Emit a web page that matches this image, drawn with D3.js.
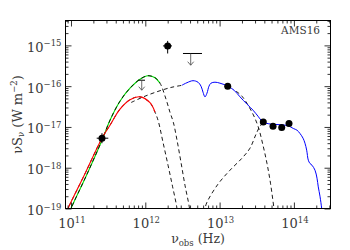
<!DOCTYPE html>
<html><head><meta charset="utf-8">
<script src="https://cdn.jsdelivr.net/npm/d3@7"></script>
<style>
html,body{margin:0;padding:0;background:#fff;}
svg{display:block;}
text{font-family:"DejaVu Serif",serif;fill:#3a3a3a;}
</style></head><body>
<svg id="c" width="350" height="250"></svg>
<script>
// All values: [log10 nu_obs (Hz), log10 nuS_nu (W m^-2)]
const coldDust = [[10.94,-19.10],[10.960,-19.00],[11.188,-18.147],[11.417,-17.276],[11.525,-16.957],[11.659,-16.565],[11.794,-16.332],[11.929,-16.263],[12.063,-16.406],[12.131,-16.639],[12.175,-16.859],[12.238,-17.374],[12.306,-17.939],[12.366,-18.453],[12.423,-18.961],[12.43,-19.10]];
const warmDust = [[10.98,-19.10],[11.000,-19.00],[11.215,-18.159],[11.417,-17.325],[11.525,-16.835],[11.659,-16.369],[11.794,-16.050],[11.929,-15.829],[12.036,-15.744],[12.131,-15.793],[12.198,-15.927],[12.279,-16.320],[12.332,-16.639],[12.377,-16.884],[12.427,-17.325],[12.480,-17.865],[12.534,-18.429],[12.592,-18.961],[12.60,-19.10]];
const torusLow = [[11.81,-16.40],[11.996,-16.246],[12.198,-16.112],[12.359,-16.026],[12.507,-15.976]];
const torusHigh = [[13.221,-16.124],[13.301,-16.246],[13.436,-16.639],[13.517,-16.982],[13.584,-17.448],[13.638,-17.897],[13.685,-18.380],[13.732,-19.00],[13.74,-19.10]];
const stellar = [[12.79,-19.10],[12.803,-19.00],[12.830,-18.846],[12.978,-18.404],[13.140,-18.061],[13.301,-17.767],[13.409,-17.521],[13.490,-17.178],[13.544,-16.982],[13.598,-16.884]];
const irsSpectrum = [[12.494,-15.976],[12.561,-15.915],[12.642,-15.866],[12.709,-15.903],[12.750,-16.001],[12.777,-16.148],[12.803,-16.263],[12.830,-16.173],[12.857,-16.001],[12.884,-15.927],[12.938,-15.903],[13.005,-15.927],[13.113,-16.001],[13.194,-16.099],[13.275,-16.263],[13.369,-16.442],[13.450,-16.590],[13.517,-16.737],[13.571,-16.859],[13.625,-16.908],[13.705,-16.933],[13.813,-16.945],[13.921,-16.970],[13.992,-17.038],[14.042,-17.080],[14.082,-17.161],[14.123,-17.276],[14.149,-17.399],[14.172,-17.570],[14.194,-17.816],[14.217,-17.897],[14.244,-17.939],[14.284,-18.061],[14.311,-18.257],[14.328,-18.470],[14.351,-18.698],[14.374,-19.00],[14.38,-19.10]];
// [logNu, logS, logNuLo, logNuHi, logSLo, logSHi]
const photometry = [[11.417,-17.276,11.346,11.502,-17.399,-17.153],[12.301,-15.013,12.238,12.359,-15.199,-14.890],[13.109,-16.001,null,null,null,null],[13.588,-16.876,13.56,13.62,null,null],[13.719,-16.982,null,null,null,null],[13.836,-17.014,null,null,null,null],[13.934,-16.916,null,null,null,null]];
// [logNu, logS (limit), logNuLo, logNuHi, logS arrow tip]
const upperLimits = [[12.611,-15.199,12.507,12.763,-15.486],[11.952,-15.854,11.906,11.996,-16.099]];
const xTickExps = [11,12,13,14];
const yTickExps = [-19,-18,-17,-16,-15];
const xDomainExp = [10.926,14.4926];
const yDomainExp = [-19,-14.39];
const sourceName = "AMS16";

const svg = d3.select("#c");
const L=65.5,R=330.5,T=20.5,B=208.5;
const x = d3.scaleLog().domain(xDomainExp.map(e=>10**e)).range([L,R]);
const y = d3.scaleLog().domain(yDomainExp.map(e=>10**e)).range([B,T]);
const X = v=>x(10**v), Y = v=>y(10**v);

svg.append("defs").append("clipPath").attr("id","clip")
  .append("rect").attr("x",L).attr("y",T).attr("width",R-L).attr("height",B-T);
const plot = svg.append("g").attr("clip-path","url(#clip)");

const line = d3.line().x(d=>X(d[0])).y(d=>Y(d[1])).curve(d3.curveCatmullRom.alpha(0.5));
const dash = "4,3";

plot.append("path").attr("d",line(stellar)).attr("fill","none").attr("stroke","#000").attr("stroke-width",0.9).attr("stroke-dasharray",dash);
plot.append("path").attr("d",line(torusLow)).attr("fill","none").attr("stroke","#000").attr("stroke-width",0.9).attr("stroke-dasharray",dash);
plot.append("path").attr("d",line(torusHigh)).attr("fill","none").attr("stroke","#000").attr("stroke-width",0.9).attr("stroke-dasharray",dash);
plot.append("path").attr("d",line(coldDust)).attr("fill","none").attr("stroke","#000").attr("stroke-width",0.9).attr("stroke-dasharray",dash);
plot.append("path").attr("d",line(warmDust.filter(d=>d[0]<=12.2))).attr("fill","none").attr("stroke","#00e000").attr("stroke-width",1.1);
plot.append("path").attr("d",line(warmDust)).attr("fill","none").attr("stroke","#000").attr("stroke-width",0.9).attr("stroke-dasharray",dash);
plot.append("path").attr("d",line(coldDust.filter(d=>d[0]<=12.14))).attr("fill","none").attr("stroke","#ff0000").attr("stroke-width",1.1);
plot.append("path").attr("d",line(irsSpectrum)).attr("fill","none").attr("stroke","#0000ff").attr("stroke-width",1);

// error bars & points
photometry.forEach(p=>{
  if(p[2]!==null) plot.append("line").attr("x1",X(p[2])).attr("x2",X(p[3])).attr("y1",Y(p[1])).attr("y2",Y(p[1])).attr("stroke","#000").attr("stroke-width",1);
  if(p[4]!==null) plot.append("line").attr("x1",X(p[0])).attr("x2",X(p[0])).attr("y1",Y(p[4])).attr("y2",Y(p[5])).attr("stroke","#000").attr("stroke-width",1);
});
plot.selectAll("circle.pt").data(photometry).join("circle").attr("class","pt")
  .attr("cx",d=>X(d[0])).attr("cy",d=>Y(d[1])).attr("r",3.5).attr("fill","#000");

upperLimits.forEach(u=>{
  const cx=X(u[0]), y0=Y(u[1]), y1=Y(u[4]);
  plot.append("line").attr("x1",X(u[2])).attr("x2",X(u[3])).attr("y1",y0).attr("y2",y0).attr("stroke","#000").attr("stroke-width",1);
  plot.append("line").attr("x1",cx).attr("x2",cx).attr("y1",y0).attr("y2",y1).attr("stroke","#444").attr("stroke-width",0.8);
  plot.append("path").attr("d",`M${cx-3},${y1-3.5}L${cx},${y1}L${cx+3},${y1-3.5}`).attr("fill","none").attr("stroke","#444").attr("stroke-width",0.8);
});

// axes (ticks inside on all four sides)
const isMajor = v=>Math.abs(Math.log10(v)-Math.round(Math.log10(v)))<1e-6;
const xMajor = xTickExps.map(e=>10**e), yMajor = yTickExps.map(e=>10**e);
const xMinor = x.ticks().filter(v=>!isMajor(v)), yMinor = y.ticks().filter(v=>!isMajor(v));
function ax(gen, vals, size, tr){
  const g = svg.append("g").attr("transform",tr)
    .call(gen.tickValues(vals).tickSizeInner(-size).tickSizeOuter(0).tickFormat(""));
  g.select(".domain").remove();
  g.selectAll(".tick line").attr("stroke","#000").attr("stroke-width",0.8);
}
ax(d3.axisBottom(x), xMajor, 6, `translate(0,${B})`);
ax(d3.axisBottom(x), xMinor, 3, `translate(0,${B})`);
ax(d3.axisTop(x), xMajor, 6, `translate(0,${T})`);
ax(d3.axisTop(x), xMinor, 3, `translate(0,${T})`);
ax(d3.axisLeft(y), yMajor, 6, `translate(${L},0)`);
ax(d3.axisLeft(y), yMinor, 3, `translate(${L},0)`);
ax(d3.axisRight(y), yMajor, 6, `translate(${R},0)`);
ax(d3.axisRight(y), yMinor, 3, `translate(${R},0)`);

svg.append("rect").attr("x",L).attr("y",T).attr("width",R-L).attr("height",B-T)
  .attr("fill","none").attr("stroke","#000").attr("stroke-width",1);

// tick labels
xTickExps.forEach(e=>{
  const t = svg.append("text").attr("x",x(10**e)+1).attr("y",228).attr("text-anchor","middle").attr("font-size",13);
  t.append("tspan").text("10");
  t.append("tspan").attr("dy",-5.5).attr("font-size",8.5).text(e);
});
yTickExps.forEach(e=>{
  const t = svg.append("text").attr("x",61.5).attr("y",y(10**e)+6.5).attr("text-anchor","end").attr("font-size",13);
  t.append("tspan").text("10");
  t.append("tspan").attr("dy",-5.5).attr("font-size",8.5).text("\u2212"+Math.abs(e));
});

// axis titles
const xt = svg.append("text").attr("x",(L+R)/2).attr("y",243).attr("text-anchor","middle").attr("font-size",12.5);
xt.append("tspan").text("\u03bd");
xt.append("tspan").attr("dy",2.5).attr("font-size",8.5).text("obs");
xt.append("tspan").attr("dy",-2.5).text(" (Hz)");

const yt = svg.append("text").attr("transform",`translate(21.5,${(T+B)/2}) rotate(-90)`).attr("text-anchor","middle").attr("font-size",13);
yt.append("tspan").text("\u03bdS");
yt.append("tspan").attr("dy",2.5).attr("font-size",8.5).text("\u03bd");
yt.append("tspan").attr("dy",-2.5).text(" (W m");
yt.append("tspan").attr("dy",-5).attr("font-size",8.5).text("\u22122");
yt.append("tspan").attr("dy",5).text(")");

svg.append("text").attr("x",320).attr("y",33.5).attr("text-anchor","end").attr("font-size",10.5).text(sourceName);
</script>
</body></html>
